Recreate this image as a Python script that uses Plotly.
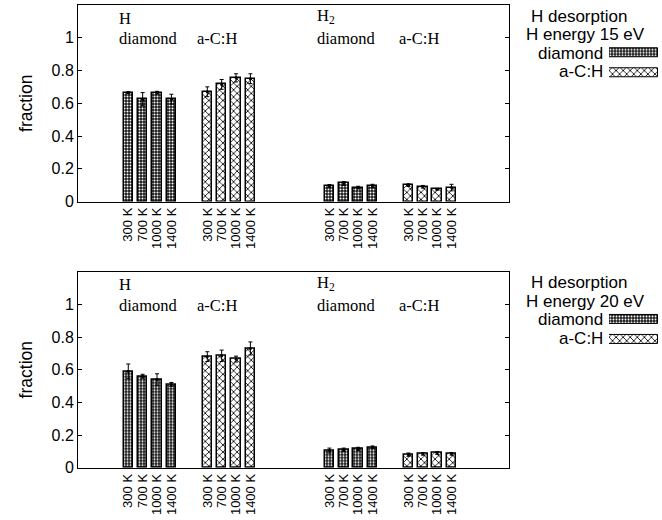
import plotly.graph_objects as go

temps = ["300 K", "700 K", "1000 K", "1400 K"]
group_starts = [3.5, 9.0, 17.5, 23.0]   # diamond(H), a-C:H(H), diamond(H2), a-C:H(H2)
group_material = ["diamond", "a-C:H", "diamond", "a-C:H"]

# Panel 1: H energy 15 eV
e15_vals = [
    [0.665, 0.625, 0.665, 0.625],   # H, diamond
    [0.670, 0.715, 0.755, 0.750],   # H, a-C:H
    [0.095, 0.110, 0.085, 0.095],   # H2, diamond
    [0.100, 0.090, 0.075, 0.085],   # H2, a-C:H
]
e15_errs = [
    [0.005, 0.040, 0.008, 0.030],
    [0.030, 0.030, 0.025, 0.030],
    [0.008, 0.012, 0.008, 0.010],
    [0.008, 0.008, 0.005, 0.020],
]
# Panel 2: H energy 20 eV
e20_vals = [
    [0.590, 0.560, 0.540, 0.510],
    [0.680, 0.685, 0.665, 0.730],
    [0.105, 0.110, 0.115, 0.125],
    [0.080, 0.085, 0.090, 0.085],
]
e20_errs = [
    [0.045, 0.012, 0.035, 0.012],
    [0.030, 0.035, 0.018, 0.040],
    [0.015, 0.010, 0.010, 0.008],
    [0.010, 0.008, 0.008, 0.008],
]
energies = ["15 eV", "20 eV"]
panels = [(e15_vals, e15_errs), (e20_vals, e20_errs)]
y_ticks = [0, 0.2, 0.4, 0.6, 0.8, 1]
y_tick_text = ["0", "0.2", "0.4", "0.6", "0.8", "1"]

W, H = 662, 520
ML, MR, MT, MB = 78, 2, 5, 52
PW, PH = W - ML - MR, H - MT - MB


def px(x):
    return (x - ML) / PW


def py(y):
    return (H - MB - y) / PH


SANS = "Liberation Sans, Arial, sans-serif"
SERIF = "Liberation Serif, Times New Roman, serif"

patterns = {
    "diamond": dict(shape=".", size=3, solidity=0.35, fgcolor="white", bgcolor="#1a1a1a",
                    fgopacity=1),
    "a-C:H": dict(shape="x", size=5, solidity=0.3, fgcolor="black", bgcolor="white",
                  fgopacity=1),
}

fig = go.Figure()
panel_top_px = [5, 271.7]
panel_bot_px = [201.5, 467.7]
x_dom = [0, (509 - ML) / PW]

for p, (vals, errs) in enumerate(panels):
    xa = "x" if p == 0 else "x2"
    ya = "y" if p == 0 else "y2"
    tickvals, ticktext = [], []
    for g in range(4):
        xs = [group_starts[g] + i for i in range(4)]
        tickvals += xs
        ticktext += temps
        mat = group_material[g]
        fig.add_trace(go.Bar(
            x=xs, y=vals[g], width=0.66, xaxis=xa, yaxis=ya,
            marker=dict(color="white", pattern=patterns[mat],
                        line=dict(color="black", width=1.5)),
            error_y=dict(type="data", array=errs[g], color="black",
                         thickness=1, width=2),
            showlegend=False, hoverinfo="skip",
        ))
        fig.add_trace(go.Scatter(
            x=xs, y=vals[g], mode="markers", xaxis=xa, yaxis=ya,
            marker=dict(color="black", size=3), showlegend=False, hoverinfo="skip",
        ))
    suffix = "" if p == 0 else "2"
    dom = [py(panel_bot_px[p]), py(panel_top_px[p])]
    fig.update_layout(**{
        "xaxis" + suffix: dict(domain=x_dom, range=[0, 30], anchor=ya,
                               tickvals=tickvals, ticktext=ticktext, tickangle=-90,
                               ticks="", showline=True, linecolor="black", linewidth=1,
                               mirror=True, showgrid=False, zeroline=False,
                               tickfont=dict(family=SANS, size=13, color="black")),
        "yaxis" + suffix: dict(domain=dom, range=[0, 1.2], anchor=xa,
                               tickvals=y_ticks, ticktext=y_tick_text,
                               ticks="inside", ticklen=4, tickcolor="black",
                               showline=True, linecolor="black", linewidth=1,
                               mirror="ticks", showgrid=False, zeroline=False,
                               tickfont=dict(family=SANS, size=16, color="black"),
                               title=dict(text="fraction", standoff=14,
                                          font=dict(family=SANS, size=17.5, color="black"))),
    })

    # in-plot group labels
    off = panel_top_px[p] - panel_top_px[0]
    labels = [
        ("H", 117, 18), ("diamond", 117, 38.5), ("a-C:H", 194.5, 38.5),
        ("H<sub>2</sub>", 315, 16.5), ("diamond", 315, 38.5), ("a-C:H", 396.5, 38.5),
    ]
    for txt, lx, ly in labels:
        fig.add_annotation(text=txt, x=px(lx), y=py(ly + off), xref="paper", yref="paper",
                           xanchor="left", yanchor="middle", showarrow=False,
                           font=dict(family=SERIF, size=16.5, color="black"))

    # key
    KF = dict(family=SANS, size=17, color="black")
    fig.add_annotation(text="H desorption", x=px(578.5), y=py(16 + off), xref="paper",
                       yref="paper", xanchor="center", yanchor="middle", showarrow=False,
                       font=KF, borderpad=0)
    fig.add_annotation(text="H energy " + energies[p], x=px(585), y=py(34.5 + off),
                       xref="paper", yref="paper", xanchor="center", yanchor="middle",
                       showarrow=False, font=KF, borderpad=0)
    for k, (mat, ky) in enumerate([("diamond", 53), ("a-C:H", 71.5)]):
        fig.add_annotation(text=mat, x=px(604), y=py(ky + off), xref="paper",
                           yref="paper", xanchor="right", yanchor="middle",
                           showarrow=False, font=KF, borderpad=0)
    # key samples on a small helper axis
    kx = "x" + str(3 + p)
    ky_ = "y" + str(3 + p)
    for k, mat in enumerate(["diamond", "a-C:H"]):
        fig.add_trace(go.Bar(
            x=[1], y=[k], orientation="h", width=0.45, xaxis=kx, yaxis=ky_,
            marker=dict(color="white", pattern=patterns[mat],
                        line=dict(color="black", width=1)),
            showlegend=False, hoverinfo="skip",
        ))
    ktop = 42.25 + off
    kbot = 82.75 + off
    fig.update_layout(**{
        "xaxis" + str(3 + p): dict(domain=[px(609), px(658)], range=[0, 1], anchor=ky_,
                                   visible=False, fixedrange=True),
        "yaxis" + str(3 + p): dict(domain=[py(kbot), py(ktop)], range=[1.5, -0.5],
                                   anchor=kx, visible=False, fixedrange=True),
    })

fig.update_layout(
    width=W, height=H, margin=dict(l=ML, r=MR, t=MT, b=MB),
    paper_bgcolor="white", plot_bgcolor="white", bargap=0,
)
fig.write_html("out.html")
